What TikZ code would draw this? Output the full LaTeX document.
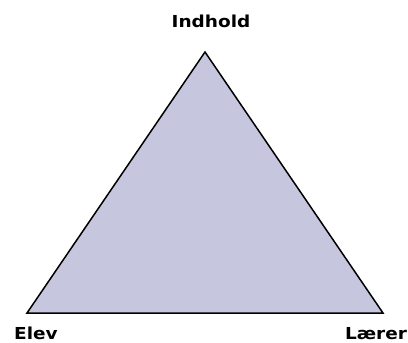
\documentclass[tikz,border=0pt]{standalone}
\usepackage{fontspec}
\setmainfont{DejaVu Sans}
\definecolor{trifill}{HTML}{C6C6DF}
\tikzset{lbl/.style={font=\fontsize{16.5}{18}\selectfont\bfseries, inner sep=0pt, anchor=base, xscale=1.12}}
\begin{document}
\begin{tikzpicture}[x=1pt,y=-1pt]
\useasboundingbox (0,0) rectangle (408,343);
\coordinate (A) at (205,52);
\coordinate (B) at (27,313);
\coordinate (C) at (383,313);
\draw[fill=trifill, line width=1.5pt, line join=miter] (A) -- (C) -- (B) -- cycle;
\node[lbl] (top) at (211,27) {Indhold};
\node[lbl] (elev) at (36,339) {Elev};
\node[lbl] (laerer) at (376,339) {Lærer};
\end{tikzpicture}
\end{document}
